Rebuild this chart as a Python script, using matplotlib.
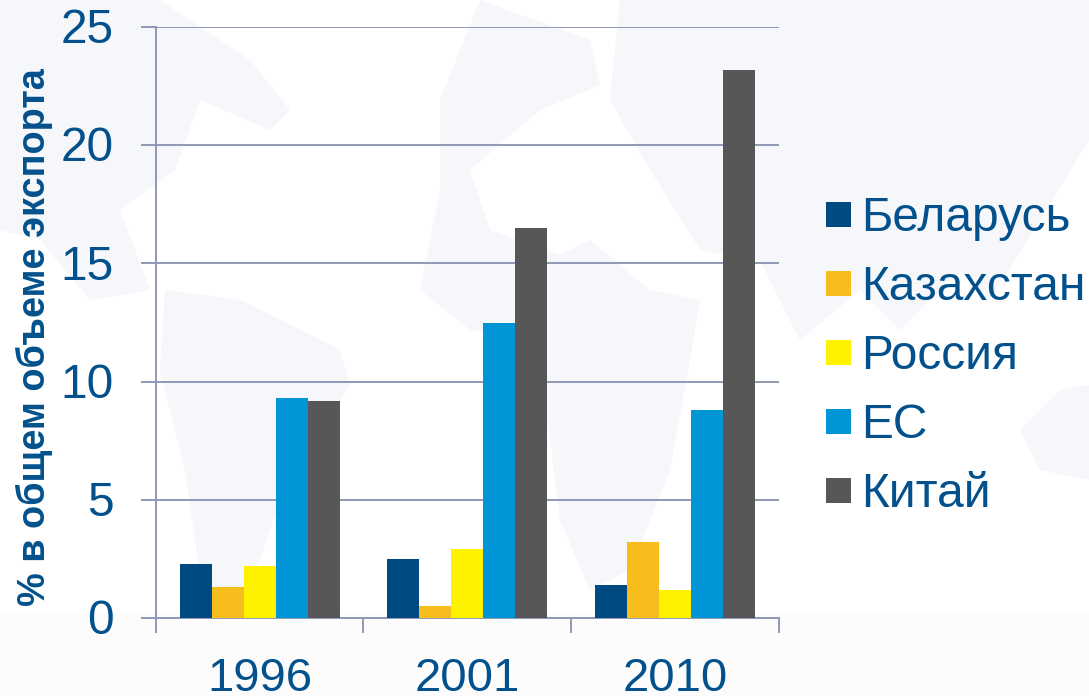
import matplotlib
matplotlib.use("Agg")
import matplotlib.pyplot as plt
import numpy as np
from matplotlib.patches import Rectangle, Polygon
from matplotlib.transforms import ScaledTranslation

years = ["1996", "2001", "2010"]
series_names = ["Беларусь", "Казахстан", "Россия", "ЕС", "Китай"]
belarus = [2.3, 2.5, 1.4]
kazakhstan = [1.3, 0.5, 3.2]
russia = [2.2, 2.9, 1.2]
eu = [9.3, 12.5, 8.8]
china = [9.2, 16.5, 23.2]
colors = ["#004a82", "#f7bd1c", "#fff200", "#0095d6", "#575757"]
text_color = "#03518c"
grid_color = "#8f98b5"

# faint decorative world-map backdrop (pixel outlines)
map_shapes = [
    [(0,0),(160,0),(250,60),(290,110),(270,130),(200,100),(175,170),(120,210),(150,290),(90,300),(40,240),(0,230)],
    [(165,290),(240,300),(340,350),(350,385),(290,470),(260,560),(230,610),(205,610),(185,470),(160,370)],
    [(480,0),(590,40),(600,85),(540,110),(470,170),(490,230),(560,255),(590,240),(650,290),(700,300),(690,360),(670,470),(630,570),(590,590),(560,520),(545,400),(520,340),(470,330),(420,290),(440,190),(440,100)],
    [(620,0),(1089,0),(1089,140),(1040,220),(990,300),(960,270),(900,330),(860,290),(800,340),(760,260),(700,250),(650,170),(610,100)],
    [(1020,430),(1060,390),(1089,385),(1089,480),(1040,470)],
]

W, H = 1089, 696
plt.rcParams['font.family'] = ['Liberation Sans', 'DejaVu Sans']
fig = plt.figure(figsize=(W/100, H/100), dpi=100, facecolor="#ffffff")

bg = fig.add_axes([0, 0, 1, 1], zorder=0)
bg.set_xlim(0, W)
bg.set_ylim(H, 0)
bg.axis("off")
for shape in map_shapes:
    bg.add_patch(Polygon(shape, closed=True, facecolor="#f6f7fb", edgecolor="none"))
bg.add_patch(Rectangle((0, 612), W, H-612, facecolor="#fcfcfc", edgecolor="none"))

L, R, T, B = 155.7, 779, 27, 618
ax = fig.add_axes([L/W, 1-B/H, (R-L)/W, (B-T)/H], zorder=1)
ax.patch.set_alpha(0)
values = [belarus, kazakhstan, russia, eu, china]
bw = 0.154
x = np.arange(3)
for i, (v, c, n) in enumerate(zip(values, colors, series_names)):
    ax.bar(x + (i-2)*bw, v, bw, color=c, label=n, zorder=3)
ax.set_xlim(-0.5, 2.5)
ax.set_ylim(0, 25)
ax.set_yticks(range(0, 30, 5))
ax.set_xticks(x)
ax.set_xticklabels(years)
ax.yaxis.grid(True, color=grid_color, lw=1.4, zorder=1)
ax.set_axisbelow(True)
for s in ["top", "right"]:
    ax.spines[s].set_visible(False)
for s in ["left", "bottom"]:
    ax.spines[s].set_color(grid_color)
    ax.spines[s].set_linewidth(1.4)
ax.tick_params(axis="y", labelsize=34.5, colors=text_color, length=10.5, color=grid_color, width=1.4, pad=20)
ax.tick_params(axis="x", length=0, labelsize=34, labelcolor=text_color, pad=28)
shift = ScaledTranslation(0, 1/72, fig.dpi_scale_trans)
for lab in ax.get_yticklabels():
    lab.set_transform(lab.get_transform() + shift)
for xt in [-0.5, 0.5, 1.5, 2.5]:
    ax.plot([xt, xt], [0, -0.6], color=grid_color, lw=1.4, clip_on=False)
fig.text(34/W, 1-337/H, "% в общем объеме экспорта", rotation=90, ha="center", va="center",
         fontsize=27.3, fontweight="bold", color=text_color, zorder=5)
for i, (n, c) in enumerate(zip(series_names, colors)):
    fig.add_artist(Rectangle((826/W, 1-(227+i*69)/H), 25/W, 25/H, transform=fig.transFigure,
                             facecolor=c, edgecolor="none", zorder=5))
    fig.text(861/W, 1-(231+i*69)/H, n, fontsize=34.5, color=text_color, va="baseline", ha="left", zorder=5)
fig.savefig("out.png", dpi=100, facecolor=fig.get_facecolor())
